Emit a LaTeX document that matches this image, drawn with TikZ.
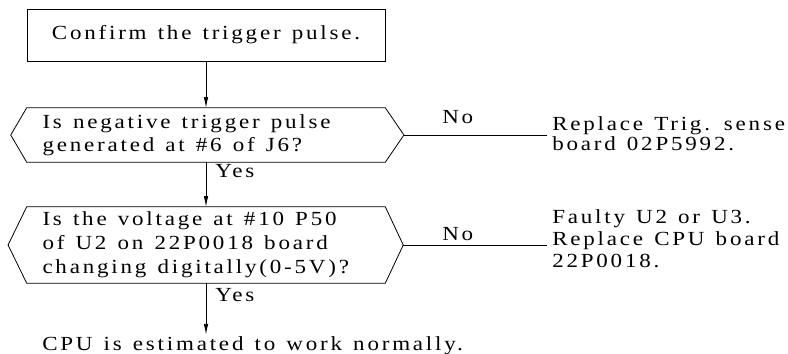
\documentclass[tikz,border=0pt]{standalone}
\usepackage{fontspec}
\setmainfont{Liberation Serif}[FakeStretch=1.15,LetterSpace=14,WordSpace=1.3,Ligatures=CommonOff]
\usetikzlibrary{arrows.meta,calc}
\begin{document}
\begin{tikzpicture}[x=0.75pt,y=-0.75pt,
  every node/.style={font=\fontsize{15pt}{16.5pt}\selectfont},
  ln/.style={line width=0.6pt},
  arr/.style={ln,-{Latex[length=8pt,width=3.4pt]}},
  stepbox/.style={draw,ln,minimum width=268.5pt,minimum height=39pt,inner sep=0pt},
  hexbody/.style={inner ysep=0pt,inner xsep=11.25pt,text width=245.25pt,align=flush left,minimum width=268.5pt},
  lbl/.style={inner sep=0pt,anchor=base west},
  res/.style={inner sep=0pt,anchor=base west,align=flush left}]
\useasboundingbox (0,0) rectangle (788,353);
% start box
\node[stepbox] (b) at (206,35) {Confirm the trigger pulse.};
% decision 1
\node[hexbody,minimum height=40.5pt,font=\fontsize{15pt}{17pt}\selectfont] (q1) at (206,135)
  {Is negative trigger pulse\\generated at \#6 of J6?};
\draw[ln] (q1.north west) -- (q1.north east) -- ([xshift=14pt]q1.east)
  -- (q1.south east) -- (q1.south west) -- ([xshift=-12pt]q1.west) -- cycle;
\coordinate (t1) at ([xshift=14pt]q1.east);
% decision 2
\node[hexbody,minimum height=57pt,font=\fontsize{15pt}{18pt}\selectfont] (q2) at (206,245)
  {Is the voltage at \#10 P50\\of U2 on 22P0018 board\\changing digitally(0-5V)?};
\draw[ln] (q2.north west) -- (q2.north east) -- ([xshift=13.5pt]q2.east)
  -- (q2.south east) -- (q2.south west) -- ([xshift=-14pt]q2.west) -- cycle;
\coordinate (t2) at ([xshift=13.5pt]q2.east);
% results (base anchor = last line)
\node[res,font=\fontsize{15pt}{15pt}\selectfont] (r1) at (552,150) {Replace Trig. sense\\board 02P5992.};
\node[res] (r2) at (552,267) {Faulty U2 or U3.\\Replace CPU board\\22P0018.};
\node[lbl,inner ysep=1pt] (fin) at (42,350) {CPU is estimated to work normally.};
% connectors
\draw[arr] (b) -- (q1);
\draw[arr] (q1) -- (q2);
\draw[arr] (q2) -- (q2.south |- fin.north);
\draw[ln] (t1) -- (t1 -| 547,0) coordinate (n1);
\draw[ln] (t2) -- (t2 -| 547,0) coordinate (n2);
% labels
\node[lbl] (y1) at (215,177) {Yes};
\node[lbl] (y2) at (215,301) {Yes};
\node[lbl] (no1) at (442,123) {No};
\node[lbl] (no2) at (442,240) {No};
\end{tikzpicture}
\end{document}
